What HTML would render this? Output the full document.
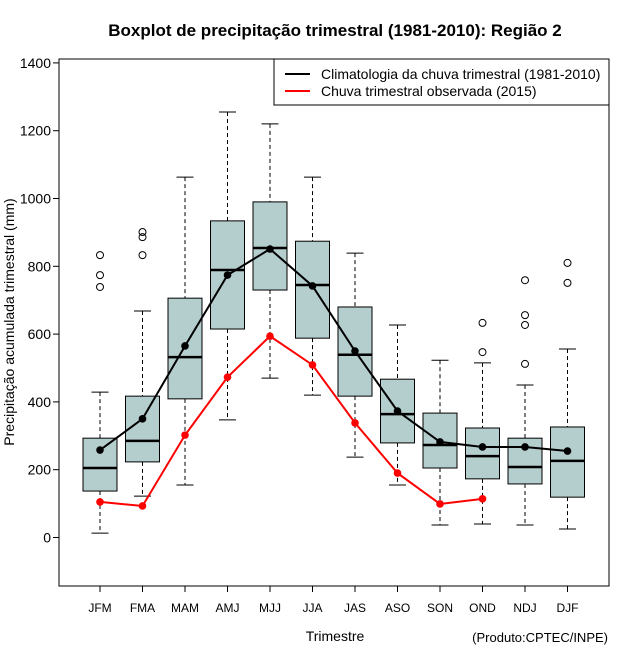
<!DOCTYPE html>
<html><head><meta charset="utf-8"><style>
body{margin:0;background:#fff;}
svg{display:block;font-family:"Liberation Sans",sans-serif;}
</style></head><body>
<svg id="c" width="640" height="660"></svg>
<script>
const categories=["JFM","FMA","MAM","AMJ","MJJ","JJA","JAS","ASO","SON","OND","NDJ","DJF"];
const whiskerLow=[13,122,155,347,470,420,237,155,37,40,37,25];
const q1=[137,223,409,615,730,588,417,279,205,173,158,119];
const median=[205,285,532,789,854,745,539,364,273,240,208,226];
const q3=[293,417,706,934,990,874,680,467,367,323,293,326];
const whiskerHigh=[429,668,1063,1255,1220,1063,839,627,523,515,450,556];
const outliers=[[833,774,739],[901,886,833],[],[],[],[],[],[],[],[633,547],[759,656,627,512],[810,751]];
const climatology=[258,350,565,774,851,742,550,373,282,267,267,255];
const observed=[105,93,302,473,594,509,338,190,99,114];
const yTicks=[0,200,400,600,800,1000,1200,1400];

const NS="http://www.w3.org/2000/svg";
const svg=document.getElementById('c');
const X0=59,X1=609,Y0=59,Y1=586;
const xs=i=>100+i*42.5;
const ys=v=>537.5-v*0.339;
function mk(tag,attrs,parent){const e=document.createElementNS(NS,tag);for(const k in attrs)e.setAttribute(k,attrs[k]);(parent||svg).appendChild(e);return e;}
function txt(s,attrs){const e=mk('text',attrs);e.textContent=s;return e;}

let t=txt("Boxplot de precipitação trimestral (1981-2010): Região 2",{x:335,y:36,'text-anchor':'middle','font-size':17,'font-weight':'bold'});



let frame=mk('rect',{x:X0,y:Y0,width:X1-X0,height:Y1-Y0,fill:'none',stroke:'#000','stroke-width':1});



yTicks.forEach(v=>{
  const l=mk('line',{x1:X0-6,x2:X0,y1:ys(v),y2:ys(v),stroke:'#000'});
  
  
  const tl=txt(String(v),{x:X0-8,y:ys(v)+5,'text-anchor':'end','font-size':14});
  
  
});
let yt=txt("Precipitação acumulada trimestral (mm)",{x:0,y:0,transform:'translate(14,322) rotate(-90)','text-anchor':'middle','font-size':14});


let xt=txt("Trimestre",{x:335,y:641,'text-anchor':'middle','font-size':14});


let cr=txt("(Produto:CPTEC/INPE)",{x:608,y:642,'text-anchor':'end','font-size':13});



categories.forEach((c,i)=>{
  const x=xs(i);
  const tk=mk('line',{x1:x,x2:x,y1:Y1,y2:Y1+6,stroke:'#000'});
  
  
  const lb=txt(c,{x:x,y:612,'text-anchor':'middle','font-size':12});
  
  
  const g=mk('g',{});
  
  
  mk('line',{x1:x,x2:x,y1:ys(whiskerHigh[i]),y2:ys(q3[i]),stroke:'#000','stroke-dasharray':'4,3'},g);
  mk('line',{x1:x,x2:x,y1:ys(q1[i]),y2:ys(whiskerLow[i]),stroke:'#000','stroke-dasharray':'4,3'},g);
  mk('line',{x1:x-8.5,x2:x+8.5,y1:ys(whiskerHigh[i]),y2:ys(whiskerHigh[i]),stroke:'#000'},g);
  mk('line',{x1:x-8.5,x2:x+8.5,y1:ys(whiskerLow[i]),y2:ys(whiskerLow[i]),stroke:'#000'},g);
  mk('rect',{x:x-17,y:ys(q3[i]),width:34,height:ys(q1[i])-ys(q3[i]),fill:'#b4cdcd',stroke:'#000'},g);
  mk('line',{x1:x-17,x2:x+17,y1:ys(median[i]),y2:ys(median[i]),stroke:'#000','stroke-width':2.5},g);
  outliers[i].forEach(v=>{
    const o=mk('circle',{cx:x,cy:ys(v),r:3.5,fill:'none',stroke:'#000'});
    
    
  });
});

function series(vals,color,name){
  const p=mk('polyline',{points:vals.map((v,i)=>xs(i)+','+ys(v)).join(' '),fill:'none',stroke:color,'stroke-width':2});
  
  
  vals.forEach((v,i)=>{
    const d=mk('circle',{cx:xs(i),cy:ys(v),r:3.8,fill:color});
    
    
  });
}
series(climatology,'#000','climatology');
series(observed,'#f00','observed-2015');

const lg=mk('g',{});


mk('rect',{x:274,y:59,width:335,height:46,fill:'#fff',stroke:'#000'},lg);
mk('line',{x1:285,x2:310,y1:74,y2:74,stroke:'#000','stroke-width':2},lg);
mk('line',{x1:285,x2:310,y1:91,y2:91,stroke:'#f00','stroke-width':2},lg);
let l1=mk('text',{x:321,y:79,'font-size':14},lg);l1.textContent="Climatologia da chuva trimestral (1981-2010)";


let l2=mk('text',{x:321,y:96,'font-size':14},lg);l2.textContent="Chuva trimestral observada (2015)";


</script>
</body></html>
